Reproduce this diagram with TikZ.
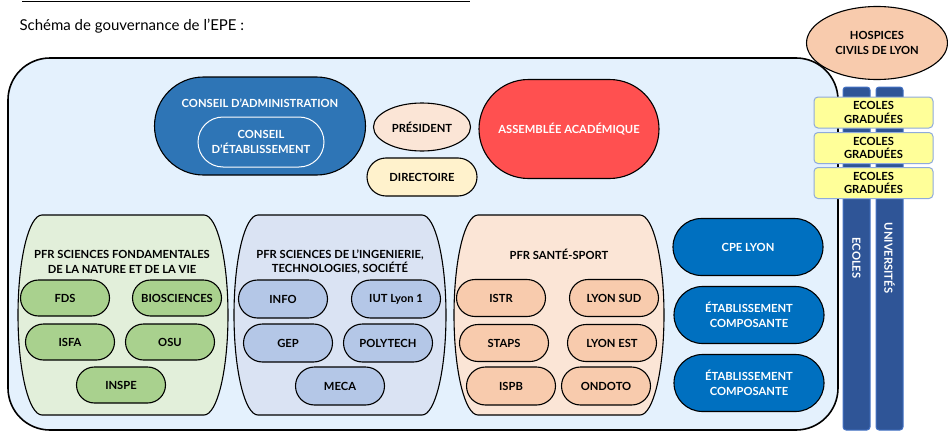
\documentclass[tikz,border=0pt]{standalone}
\usepackage{fontspec}
\setmainfont{Lato}
\usetikzlibrary{shapes.misc,shapes.geometric}

\definecolor{fondepe}{RGB}{228,241,253}
\definecolor{bleuca}{RGB}{46,117,182}
\definecolor{rougeaa}{RGB}{255,80,80}
\definecolor{pechepres}{RGB}{251,229,214}
\definecolor{jaunedir}{RGB}{255,242,204}
\definecolor{pechehcl}{RGB}{248,203,173}
\definecolor{bleubarre}{RGB}{47,85,151}
\definecolor{bordbarre}{RGB}{68,114,196}
\definecolor{jaunegrad}{RGB}{255,255,153}
\definecolor{bordgrad}{RGB}{143,170,220}
\definecolor{vertfond}{RGB}{226,239,218}
\definecolor{vertpill}{RGB}{169,209,142}
\definecolor{bleufond}{RGB}{218,227,243}
\definecolor{bleupill}{RGB}{180,199,231}
\definecolor{pechefond}{RGB}{251,229,214}
\definecolor{pechepill}{RGB}{248,203,173}
\definecolor{bleuetab}{RGB}{0,112,192}

\begin{document}
\begin{tikzpicture}[x=1pt,y=1pt,
  lbl/.style={font=\fontsize{11.2}{14.5}\selectfont\bfseries,align=center},
  pill/.style={rounded rectangle,draw=black,line width=1.1pt,lbl,minimum width=91pt,minimum height=36pt,inner sep=1pt},
  greenpill/.style={pill,fill=vertpill},
  bluepill/.style={pill,fill=bleupill},
  peachpill/.style={pill,fill=pechepill},
  bigpill/.style={pill,fill=bleuetab,text=white,minimum width=152pt,minimum height=57pt},
  gradbox/.style={rectangle,rounded corners=4pt,draw=bordgrad,line width=1pt,fill=jaunegrad,lbl,font=\fontsize{11.2}{13.5}\selectfont\bfseries,minimum width=119pt,minimum height=31pt,inner sep=0pt},
  barbox/.style={rectangle,rounded corners=3pt,draw=bordbarre,line width=1pt,fill=bleubarre,minimum width=27pt,minimum height=343pt}
]
\useasboundingbox (0,0) rectangle (948,-431);

%definitions
\def\pfrshape#1#2#3#4#5{% left, top, right, bottom, colour
  \filldraw[fill=#5,line width=1.1pt] (#1+24,#2) -- (#3-24,#2)
    arc[start angle=90,end angle=-90,x radius=24,y radius={(#2-(#4))/2}] -- (#1+24,#4)
    arc[start angle=270,end angle=90,x radius=24,y radius={(#2-(#4))/2}] -- cycle;}

% title
\draw[line width=1pt] (22,-1.5) -- (470,-1.5);
\node[anchor=west,font=\fontsize{15}{18}\selectfont] (titre) at (16,-26) {Schéma de gouvernance de l’EPE :};

% EPE
\filldraw[fill=fondepe,line width=1.6pt,rounded corners=42pt] (8,-58) rectangle (838,-430);

\node[pill,fill=bleuca,minimum width=213pt,minimum height=98pt] (ca) at (260,-126) {};
\node[lbl,text=white] (catitre) at (260,-103) {CONSEIL D’ADMINISTRATION};
\node[rounded rectangle,draw=white,line width=1pt,lbl,text=white,minimum width=128pt,minimum height=50pt,inner sep=1pt] (ce) at (261,-142) {CONSEIL\\D’ÉTABLISSEMENT};
\node[ellipse,draw=black,line width=1.1pt,fill=pechepres,minimum width=97pt,minimum height=48pt,inner sep=0pt,lbl] (pres) at (422,-127) {PRÉSIDENT};
\node[pill,fill=jaunedir,minimum width=112pt,minimum height=38pt] (dir) at (422,-177) {DIRECTOIRE};
\node[pill,fill=rougeaa,text=white,minimum width=182pt,minimum height=99pt] (aa) at (569,-129) {ASSEMBLÉE ACADÉMIQUE};

% PFR
\pfrshape{18}{-215}{228}{-415}{vertfond}
\pfrshape{234}{-215}{446}{-415}{bleufond}
\pfrshape{454}{-215}{664}{-415}{pechefond}
\node[lbl] (pfrnat) at (122,-262) {PFR SCIENCES FONDAMENTALES\\DE LA NATURE ET DE LA VIE};
\node[lbl] (pfring) at (340,-262) {PFR SCIENCES DE L’INGENIERIE,\\TECHNOLOGIES, SOCIÉTÉ};
\node[lbl] (pfrsan) at (559,-254) {PFR SANTÉ-SPORT};

\node[greenpill] (fds) at (65,-298) {FDS};
\node[greenpill] (bio) at (177,-298) {BIOSCIENCES};
\node[greenpill] (isfa) at (70,-342) {ISFA};
\node[greenpill] (osu) at (170,-342) {OSU};
\node[greenpill] (inspe) at (121,-385) {INSPE};

\node[bluepill,minimum height=38pt] (info) at (283,-299) {INFO};
\node[bluepill,minimum height=38pt] (iut) at (396,-299) {IUT Lyon 1};
\node[bluepill,minimum height=38pt] (gep) at (288,-343) {GEP};
\node[bluepill,minimum height=38pt] (poly) at (388,-343) {POLYTECH};
\node[bluepill,minimum height=38pt] (meca) at (340,-386) {MECA};

\node[peachpill,minimum height=37pt] (istr) at (501,-298) {ISTR};
\node[peachpill,minimum height=37pt] (sud) at (614,-298) {LYON SUD};
\node[peachpill,minimum height=37pt] (staps) at (504,-343) {STAPS};
\node[peachpill,minimum height=37pt] (est) at (612,-343) {LYON EST};
\node[peachpill,minimum height=38pt] (ispb) at (511,-386) {ISPB};
\node[peachpill,minimum height=38pt] (odonto) at (606,-386) {ONDOTO};

\node[bigpill] (cpe) at (748,-247) {CPE LYON};
\node[bigpill] (etab1) at (749,-315) {ÉTABLISSEMENT\\COMPOSANTE};
\node[bigpill] (etab2) at (749,-383) {ÉTABLISSEMENT\\COMPOSANTE};

% right side
\node[ellipse,draw=black,line width=1.1pt,fill=pechehcl,minimum width=141pt,minimum height=73pt,inner sep=0pt,lbl] (hcl) at (877,-43) {HOSPICES\\CIVILS DE LYON};
\node[barbox] (ecoles) at (856.5,-258.5) {};
\node[barbox] (univ) at (889.5,-258.5) {};
\node[lbl,text=white,rotate=-90] (ecolestxt) at (856.5,-258) {ECOLES};
\node[lbl,text=white,rotate=-90] (univtxt) at (889.5,-258) {UNIVERSITÉS};
\node[gradbox] (grad1) at (873.5,-112.5) {ECOLES\\GRADUÉES};
\node[gradbox] (grad2) at (873.5,-148) {ECOLES\\GRADUÉES};
\node[gradbox] (grad3) at (873.5,-183) {ECOLES\\GRADUÉES};
\end{tikzpicture}
\end{document}
